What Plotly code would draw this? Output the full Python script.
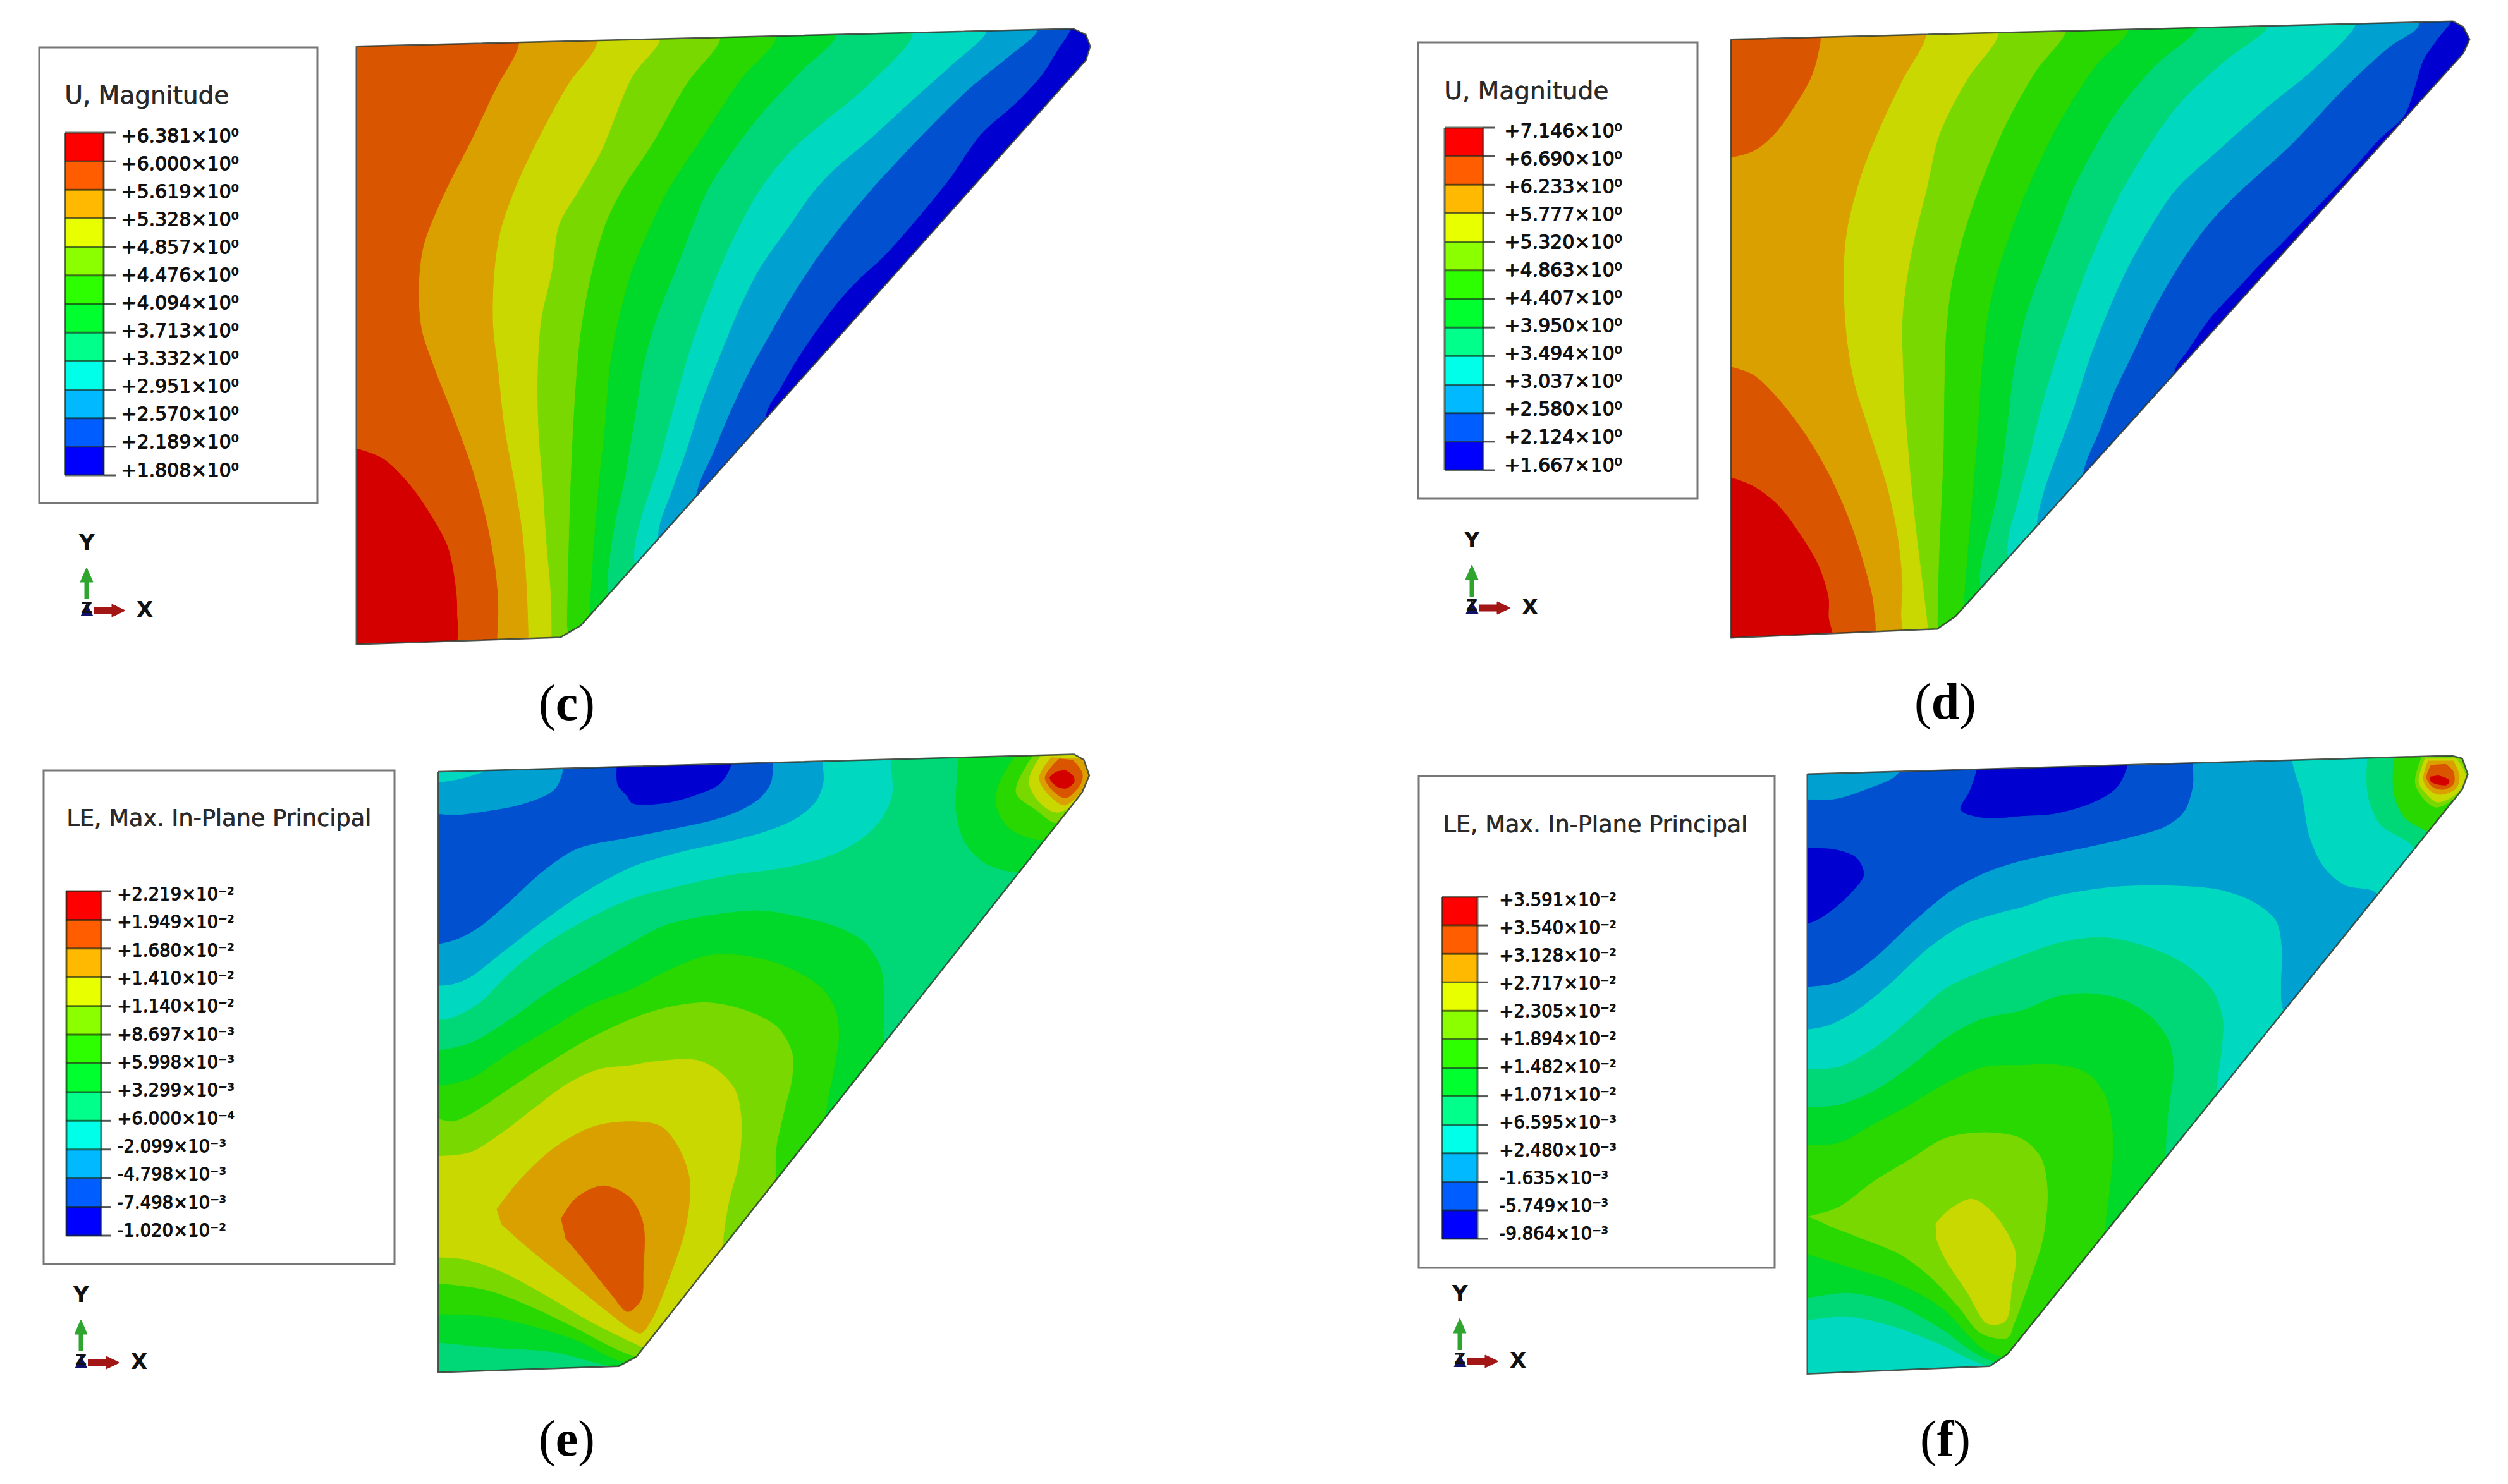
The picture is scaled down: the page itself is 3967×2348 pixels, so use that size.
import plotly.graph_objects as go

W, H = 3967, 2348

# ---------- colours ----------
C_RED, C_ORED, C_ORG, C_YEL = "#D40000", "#D95500", "#DAA000", "#C8D800"
C_LIME, C_GRN, C_GRN2, C_SPR = "#78D800", "#28D800", "#00D82A", "#00D878"
C_CYA, C_SKY, C_BLU, C_DEEP = "#00D8C0", "#00A0D0", "#0050D0", "#0000D0"
LEGEND_COLORS = ["#FF0000", "#FF5D00", "#FFB900", "#E8FF00", "#8BFF00", "#2EFF00",
                 "#00FF2E", "#00FF8B", "#00FFE8", "#00B9FF", "#005DFF", "#0000FF"]

# ---------- legend text ----------
TITLE_C = "U, Magnitude"
TITLE_E = "LE, Max. In-Plane Principal"
LABELS_C = ["+6.381", "+6.000", "+5.619", "+5.328", "+4.857", "+4.476", "+4.094",
            "+3.713", "+3.332", "+2.951", "+2.570", "+2.189", "+1.808"]
EXP_C = ["⁰"] * 13
LABELS_D = ["+7.146", "+6.690", "+6.233", "+5.777", "+5.320", "+4.863", "+4.407",
            "+3.950", "+3.494", "+3.037", "+2.580", "+2.124", "+1.667"]
EXP_D = ["⁰"] * 13
LABELS_E = ["+2.219", "+1.949", "+1.680", "+1.410", "+1.140", "+8.697", "+5.998",
            "+3.299", "+6.000", "-2.099", "-4.798", "-7.498", "-1.020"]
EXP_E = ["⁻²", "⁻²", "⁻²", "⁻²", "⁻²", "⁻³", "⁻³", "⁻³", "⁻⁴", "⁻³", "⁻³", "⁻³", "⁻²"]
LABELS_F = ["+3.591", "+3.540", "+3.128", "+2.717", "+2.305", "+1.894", "+1.482",
            "+1.071", "+6.595", "+2.480", "-1.635", "-5.749", "-9.864"]
EXP_F = ["⁻²", "⁻²", "⁻²", "⁻²", "⁻²", "⁻²", "⁻²", "⁻²", "⁻³", "⁻³", "⁻³", "⁻³", "⁻³"]


def crop(x0, y0, w, h):
    sx, sy = 1568 / w, 1568 / h
    return lambda pts: [(x0 + a / sx, y0 + b / sy) for a, b in pts]


A1, A2, A3 = crop(0, 0, 1000, 1150), crop(1000, 0, 900, 1150), crop(800, 300, 600, 720)
B1, B2, B3 = crop(2200, 0, 1000, 1150), crop(3100, 0, 867, 1150), crop(2980, 300, 600, 720)
E1, E2 = crop(0, 1170, 1100, 1178), crop(1000, 1170, 800, 1050)
F1, F2 = crop(2200, 1170, 1100, 1178), crop(3200, 1170, 767, 1050)

# ---------- panel (c) contours ----------
C_OUTLINE = A1([(884, 100)]) + A2([(1215, 62), (1250, 75), (1262, 100), (1250, 130)]) + \
    A1([(1440, 1350), (1390, 1375), (884, 1390)])
C_RED_PATCH = A1([(884, 968), (950, 990), (1010, 1040), (1060, 1100), (1110, 1180), (1130, 1270),
                  (1133, 1320), (1125, 1395), (870, 1400), (870, 968)])
C_B_ORG = A1([(1285, 100), (1230, 190), (1170, 300), (1100, 420), (1050, 530), (1038, 620), (1045, 710),
              (1075, 790), (1120, 890), (1170, 1010), (1205, 1120), (1228, 1230), (1235, 1310), (1232, 1385)])
C_B_YEL = A1([(1478, 98), (1410, 180), (1340, 290), (1280, 400), (1240, 500), (1225, 590), (1222, 700),
              (1235, 800), (1250, 920), (1275, 1040), (1295, 1150), (1305, 1260), (1310, 1380)])
C_B_LIME = A2([(75, 88), (0, 165)]) + A1([(1490, 327)]) + \
    A3([(303, 0), (220, 120), (190, 280), (145, 450), (130, 650), (135, 850), (150, 1000), (165, 1200), (185, 1400), (188, 1545)])
C_B_GRN = A2([(240, 88), (150, 180), (55, 310)]) + \
    A3([(480, 0), (410, 120), (350, 300), (310, 480), (290, 650), (275, 850), (265, 1050), (258, 1250), (252, 1495)])
C_B_GRN2 = A2([(395, 85), (300, 170), (190, 300)]) + \
    A3([(670, 0), (600, 120), (520, 280), (470, 430), (430, 600), (410, 800), (385, 1000), (365, 1200), (345, 1470)])
C_B_SPR = A2([(560, 80), (470, 150), (340, 260)]) + \
    A3([(841, -11), (779, 109), (719, 240), (620, 450), (570, 600), (530, 800), (490, 1000), (450, 1150), (420, 1340)])
C_B_CYA = A2([(770, 80), (640, 190), (523, 266), (435, 327)]) + \
    A3([(1050, 0), (950, 150), (870, 300), (810, 430), (750, 580), (690, 760), (630, 950), (570, 1100), (530, 1240)])
C_B_SKY = A2([(975, 70), (880, 140), (780, 210), (650, 303), (557, 365)]) + \
    A3([(1267, 11), (1176, 120), (1050, 270), (970, 400), (890, 560), (810, 730), (745, 900), (680, 1050), (630, 1175)])
C_B_BLU = A2([(1115, 68), (1040, 120), (930, 190), (800, 290), (680, 390)]) + \
    A3([(1510, 0), (1400, 110), (1290, 230), (1180, 370), (1090, 500), (1010, 620), (930, 760), (860, 900), (785, 1055)])
C_B_DEEP = A2([(1210, 60), (1170, 110), (1130, 160), (1060, 220), (960, 290), (870, 390)]) + \
    A3([(1568, 225), (1470, 300), (1380, 380), (1280, 490), (1200, 590), (1130, 690), (1075, 775)])

# ---------- panel (d) contours ----------
D_OUTLINE = B1([(843, 85)]) + B2([(1410, 46), (1440, 58), (1458, 85), (1440, 115)]) + \
    B1([(1400, 1330), (1355, 1357), (843, 1376)])
D_ORED_TOP = B1([(830, 70), (1060, 70), (1058, 120), (1040, 170), (1000, 230), (950, 290), (900, 325), (830, 342)])
D_ORED_LOW = B1([(830, 790), (848, 793), (900, 810), (960, 860), (1030, 940), (1090, 1030), (1140, 1130),
                 (1180, 1240), (1197, 1310), (1190, 1390), (830, 1395)])
D_RED_PATCH = B1([(830, 1030), (848, 1032), (900, 1050), (960, 1090), (1020, 1160), (1060, 1220), (1085, 1290),
                  (1085, 1330), (1092, 1390), (830, 1395)])
D_B_YEL = B1([(1325, 82), (1270, 170), (1210, 280), (1165, 380), (1130, 500), (1122, 600), (1130, 730), (1150, 830),
              (1190, 940), (1230, 1050), (1255, 1150), (1268, 1260), (1265, 1330), (1270, 1368)])
D_B_LIME = B1([(1505, 78), (1430, 170), (1360, 290)]) + \
    B3([(175, 0), (130, 150), (95, 300), (75, 450), (78, 620), (90, 800), (110, 1000), (135, 1200), (165, 1400), (180, 1515)])
D_B_GRN = B2([(300, 72), (220, 150), (130, 270)]) + \
    B3([(390, 0), (330, 150), (280, 320), (255, 500), (248, 700), (245, 900), (235, 1100), (225, 1300), (220, 1495)])
D_B_GRN2 = B2([(480, 68), (390, 140), (280, 270)]) + \
    B3([(590, 0), (530, 130), (470, 280), (425, 450), (400, 650), (385, 850), (365, 1050), (345, 1250), (330, 1420)])
D_B_SPR = B2([(680, 60), (560, 140), (440, 250)]) + \
    B3([(780, 0), (720, 130), (650, 280), (590, 420), (540, 600), (510, 800), (480, 1000), (440, 1150), (395, 1320)])
D_B_CYA = B2([(880, 58), (760, 130), (620, 230)]) + \
    B3([(985, 0), (900, 150), (830, 290), (770, 430), (710, 580), (650, 750), (600, 920), (550, 1080), (510, 1215)])
D_B_SKY = B2([(1130, 55), (1010, 150), (880, 230), (730, 330)]) + \
    B3([(1205, 0), (1100, 130), (1000, 280), (920, 430), (850, 580), (780, 760), (710, 920), (660, 1040), (630, 1155)])
D_B_BLU = B2([(1310, 58), (1230, 100), (1100, 190), (950, 310)]) + \
    B3([(1440, 30), (1330, 130), (1220, 260), (1110, 420), (1030, 560), (950, 700), (890, 830), (820, 985)])
D_B_DEEP = B2([(1405, 45), (1365, 85), (1325, 130), (1300, 190), (1270, 250), (1200, 300), (1100, 385), (1010, 455),
               (900, 540)]) + B3([(1568, 245), (1450, 350), (1350, 440), (1250, 560), (1200, 625)])

# ---------- panel (e) contours ----------
E_OUTLINE = E1([(988, 68)]) + E2([(1370, 35), (1400, 48), (1417, 85), (1395, 125)]) + \
    E1([(1435, 1300), (1395, 1320), (988, 1333)])
E_U_CYA = E1([(988, 590), (1020, 585), (1080, 555), (1150, 490), (1230, 430), (1330, 375)]) + \
    E2([(0, 375), (150, 345), (300, 320), (450, 305), (590, 280), (700, 240), (770, 190), (805, 130), (800, 48)])
E_U_SKY = E1([(988, 518), (1020, 515), (1060, 500), (1130, 450), (1220, 385), (1320, 320)]) + \
    E2([(0, 300), (150, 265), (300, 240), (420, 215), (510, 185), (570, 145), (592, 100), (590, 58)])
E_U_BLU = E1([(988, 430), (1030, 420), (1080, 395), (1150, 340), (1220, 280), (1300, 230)]) + \
    E2([(0, 230), (130, 210), (250, 190), (340, 165), (400, 135), (430, 100), (435, 60)])
E_SKY_PATCH = E1([(970, 155), (1030, 158), (1100, 150), (1180, 135), (1250, 105), (1270, 60), (1270, 40), (970, 40)])
E_CYA_PATCH = E1([(970, 60), (1090, 66), (1040, 82), (990, 90), (970, 92)])
E_DEEP_TOP = E1([(1393, 40), (1393, 95), (1415, 120)]) + E2([(0, 150), (100, 150), (200, 130), (270, 105), (305, 62), (305, 30)])
E_L_GRN2_U = E1([(988, 655), (1060, 640), (1150, 590), (1240, 530), (1330, 480)]) + \
    E2([(0, 480), (100, 440), (250, 415), (400, 405), (520, 420), (640, 445), (720, 480), (770, 540), (780, 620), (780, 715)])
E_L_GRN2_D = E1([(988, 1270), (1100, 1280), (1250, 1290), (1395, 1322)])
E_L_GRN_U = E1([(988, 730), (1060, 715), (1150, 660), (1240, 610), (1330, 560)]) + \
    E2([(0, 590), (100, 550), (240, 510), (380, 515), (500, 545), (590, 590), (630, 640), (640, 700), (625, 780), (600, 885)])
E_L_GRN_D = E1([(988, 1210), (1100, 1215), (1200, 1235), (1300, 1265), (1410, 1312)])
E_L_LIME_U = E1([(988, 800), (1020, 805), (1060, 790), (1150, 735), (1240, 680), (1330, 630)]) + \
    E2([(0, 660), (100, 635), (230, 622), (350, 640), (450, 680), (495, 740), (495, 800), (470, 880), (445, 970), (445, 1035)])
E_L_LIME_D = E1([(988, 1145), (1100, 1160), (1200, 1195), (1300, 1240), (1425, 1297)])
E_L_YEL_U = E1([(988, 878), (1060, 870), (1130, 830), (1200, 780), (1280, 725), (1350, 695)]) + \
    E2([(0, 770), (60, 762), (200, 758), (270, 785), (320, 830), (338, 900), (330, 1000), (300, 1090), (280, 1195)])
E_L_YEL_D = E1([(988, 1090), (1050, 1095), (1130, 1120), (1230, 1170), (1330, 1225), (1445, 1278)])
E_ORG_BLOB = E1([(1120, 990), (1170, 930), (1250, 860), (1340, 815), (1425, 805), (1490, 815), (1530, 860), (1555, 930),
                 (1545, 1030), (1510, 1130), (1470, 1220), (1445, 1250), (1420, 1240), (1350, 1190), (1270, 1130),
                 (1190, 1070), (1130, 1020)])
E_ORED_BLOB = E1([(1265, 1010), (1300, 965), (1360, 940), (1420, 965), (1450, 1020), (1450, 1120), (1445, 1180),
                  (1415, 1205), (1380, 1170), (1320, 1100), (1275, 1050)])
E_TIP_GRN2 = E2([(1015, 30), (1005, 170), (1030, 240), (1090, 290), (1175, 312), (1230, 310), (1440, 140), (1440, 20)])
E_TIP_GRN = E2([(1195, 30), (1135, 110), (1130, 160), (1170, 210), (1265, 237), (1330, 220), (1440, 130), (1440, 20)])
E_TIP_LIME = E2([(1250, 30), (1190, 125), (1250, 165), (1320, 197), (1440, 100), (1440, 20)])
E_TIP_YEL = E2([(1270, 35), (1230, 100), (1265, 150), (1320, 172), (1440, 100), (1440, 20)])
E_TIP_ORG = E2([(1300, 42), (1262, 90), (1285, 125), (1340, 155), (1400, 115), (1420, 80), (1390, 45)])
E_TIP_ORED = E2([(1325, 45), (1280, 90), (1310, 125), (1345, 138), (1390, 105), (1395, 80), (1365, 48)])
E_TIP_RED = E2([(1320, 75), (1295, 90), (1315, 110), (1345, 115), (1370, 100), (1365, 85), (1340, 72)])

# ---------- panel (f) contours ----------
F_OUTLINE = F1([(939, 73)]) + F2([(1385, 38), (1420, 45), (1438, 82), (1420, 118)]) + \
    F1([(1390, 1295), (1350, 1320), (939, 1336)])
F_U_SKY_A = F1([(939, 610), (990, 600), (1050, 570), (1130, 510), (1210, 440), (1290, 390), (1370, 365)]) + \
    F2([(0, 395), (100, 370), (300, 347), (500, 345), (640, 355), (750, 385), (820, 430), (838, 500), (835, 580), (840, 635)])
F_U_SKY_B = F2([(1140, 362), (1040, 345), (970, 300), (925, 230), (900, 130), (870, 55)])
F_U_BLU = F1([(939, 520), (1010, 510), (1090, 460), (1170, 390), (1260, 320), (1340, 280)]) + \
    F2([(0, 285), (200, 255), (350, 230), (460, 205), (520, 170), (548, 110), (548, 60)])
F_SKY_PATCH = F1([(925, 125), (1000, 125), (1070, 105), (1140, 75), (1150, 50), (925, 50)])
F_DEEP_TOP = F1([(1322, 40), (1320, 68), (1305, 110), (1285, 148), (1340, 165)]) + \
    F2([(0, 180), (100, 175), (220, 150), (300, 115), (335, 65), (335, 30)])
F_DEEP_LEFT = F1([(925, 230), (1000, 232), (1050, 250), (1066, 285), (1040, 320), (1000, 355), (960, 380), (925, 392)])
F_L_SPR_U = F1([(939, 695), (1010, 690), (1090, 650), (1170, 590), (1250, 525), (1330, 490)]) + \
    F2([(0, 510), (120, 480), (260, 468), (400, 490), (520, 530), (610, 590), (645, 660), (640, 740), (625, 828)])
F_L_SPR_D = F1([(939, 1222), (1030, 1215), (1130, 1235), (1230, 1270), (1350, 1320)])
F_L_GRN2_U = F1([(939, 775), (1010, 770), (1090, 740), (1170, 690), (1250, 630), (1330, 590)]) + \
    F2([(0, 640), (100, 610), (200, 600), (320, 615), (420, 660), (475, 720), (485, 790), (470, 870), (460, 978)])
F_L_GRN2_D = F1([(939, 1175), (1030, 1165), (1130, 1185), (1240, 1240), (1345, 1305)])
F_L_GRN_U = F1([(939, 855), (1010, 850), (1090, 810), (1170, 770), (1260, 720), (1340, 690)]) + \
    F2([(0, 770), (100, 768), (210, 790), (270, 850), (290, 950), (280, 1060), (265, 1152)])
F_L_GRN_D = F1([(939, 1085), (1030, 1110), (1130, 1140), (1240, 1195), (1330, 1280), (1375, 1300)])
F_LIME_BLOB = F1([(942, 1005), (1010, 985), (1090, 930), (1170, 885), (1250, 840), (1340, 828), (1420, 840), (1465, 880),
                  (1480, 950), (1470, 1050), (1440, 1140), (1405, 1230), (1390, 1260), (1330, 1250), (1280, 1195),
                  (1220, 1135), (1150, 1085), (1060, 1050), (990, 1025)])
F_YEL_BLOB = F1([(1228, 1020), (1260, 990), (1310, 968), (1360, 1000), (1408, 1080), (1400, 1150), (1385, 1225),
                 (1345, 1230), (1300, 1165), (1245, 1085), (1230, 1050)])
F_TIP_SPR = F2([(1115, 30), (1115, 130), (1155, 200), (1250, 245), (1300, 285), (1460, 100), (1460, 20)])
F_TIP_GRN = F2([(1200, 30), (1200, 130), (1235, 185), (1290, 210), (1330, 220), (1460, 100), (1460, 20)])
F_TIP_LIME = F2([(1290, 40), (1268, 100), (1290, 135), (1335, 160), (1410, 130), (1450, 80), (1420, 40)])
F_TIP_YEL = F2([(1300, 45), (1280, 100), (1300, 125), (1340, 148), (1405, 125), (1430, 85), (1400, 45)])
F_TIP_ORG = F2([(1310, 50), (1295, 95), (1315, 120), (1350, 130), (1400, 115), (1410, 85), (1390, 50)])
F_TIP_ORED = F2([(1320, 60), (1305, 90), (1325, 112), (1360, 118), (1392, 105), (1390, 75), (1365, 58)])
F_TIP_RED = F2([(1315, 88), (1320, 100), (1370, 107), (1378, 97), (1340, 85)])

fig = go.Figure()
cur_axes = ("x", "y")
axes_layout = {}
shapes, notes = [], []


def area(pts, color, smooth=True):
    fig.add_trace(go.Scatter(
        x=[p[0] for p in pts], y=[p[1] for p in pts], mode="lines", fill="toself", fillcolor=color,
        xaxis=cur_axes[0], yaxis=cur_axes[1],
        line=dict(color=color, width=1, shape="spline" if smooth else "linear", smoothing=0.9),
        hoverinfo="skip", showlegend=False))


class Panel:
    """Each contour plot lives on its own axes, which clip whatever the smoothed contours overshoot."""

    def __init__(self, outline, n):
        global cur_axes
        self.outline = outline
        xs, ys = [p[0] for p in outline], [p[1] for p in outline]
        self.L, self.R, self.T, self.B = min(xs) - 15, max(xs) + 15, min(ys) - 15, max(ys) + 15
        m = 25
        x0, x1, y0, y1 = self.L - m, min(self.R + m, W), max(self.T - m, 0), min(self.B + m, H)
        axes_layout[f"xaxis{n}"] = dict(domain=[x0 / W, x1 / W], range=[x0, x1], visible=False, fixedrange=True,
                                        anchor=f"y{n}")
        axes_layout[f"yaxis{n}"] = dict(domain=[1 - y1 / H, 1 - y0 / H], range=[y1, y0], visible=False, fixedrange=True,
                                        anchor=f"x{n}")
        self.box = (x0, x1, y0, y1)
        cur_axes = (f"x{n}", f"y{n}")

    def base(self, color):
        area([(self.L, self.T), (self.R, self.T), (self.R, self.B), (self.L, self.B)], color, False)

    def left_of(self, curve, color):
        """everything left of a top-to-bottom contour"""
        area([(curve[0][0], self.T)] + curve + [(curve[-1][0], self.B), (self.L, self.B), (self.L, self.T)], color)

    def above(self, curve, color):
        """everything above a left-to-top-edge contour"""
        area([(self.L, curve[0][1])] + curve + [(curve[-1][0], self.T), (self.L, self.T)], color)

    def between(self, upper, lower, color):
        """between an upper contour and a lower one, both read from the left edge"""
        area([(self.L, upper[0][1])] + upper + [(upper[-1][0], self.B)] + lower[::-1] + [(self.L, lower[0][1])], color)

    def finish(self):
        global cur_axes
        m = 10
        x0, x1, y0, y1 = self.box
        o = self.outline
        sx = o[0][0]
        rect = [(sx, y0 - m), (x1 + m, y0 - m), (x1 + m, y1 + m), (x0 - m, y1 + m), (x0 - m, y0 - m), (sx, y0 - m)]
        area(rect + [o[0]] + o[::-1] + [o[0], (sx, y0 - m)], "#FFFFFF", False)
        fig.add_trace(go.Scatter(x=[p[0] for p in o] + [o[0][0]], y=[p[1] for p in o] + [o[0][1]], mode="lines",
                                 xaxis=cur_axes[0], yaxis=cur_axes[1],
                                 line=dict(color="rgba(35,45,35,0.8)", width=2.5), hoverinfo="skip", showlegend=False))
        # clean white frame over the clip edge of the axes
        shapes.append(dict(type="rect", xref="x", yref="y", x0=x0, x1=x1, y0=y0, y1=y1,
                           line=dict(color="#FFFFFF", width=6), layer="above"))
        cur_axes = ("x", "y")


# panel (c)
p = Panel(C_OUTLINE, 2)
p.base(C_DEEP)
for curve, col in [(C_B_DEEP, C_BLU), (C_B_BLU, C_SKY), (C_B_SKY, C_CYA), (C_B_CYA, C_SPR), (C_B_SPR, C_GRN2),
                   (C_B_GRN2, C_GRN), (C_B_GRN, C_LIME), (C_B_LIME, C_YEL), (C_B_YEL, C_ORG), (C_B_ORG, C_ORED)]:
    p.left_of(curve, col)
area(C_RED_PATCH, C_RED)
p.finish()

# panel (d)
p = Panel(D_OUTLINE, 3)
p.base(C_DEEP)
for curve, col in [(D_B_DEEP, C_BLU), (D_B_BLU, C_SKY), (D_B_SKY, C_CYA), (D_B_CYA, C_SPR), (D_B_SPR, C_GRN2),
                   (D_B_GRN2, C_GRN), (D_B_GRN, C_LIME), (D_B_LIME, C_YEL), (D_B_YEL, C_ORG)]:
    p.left_of(curve, col)
area(D_ORED_TOP, C_ORED)
area(D_ORED_LOW, C_ORED)
area(D_RED_PATCH, C_RED)
p.finish()

# panel (e)
p = Panel(E_OUTLINE, 4)
p.base(C_SPR)
p.above(E_U_CYA, C_CYA)
p.above(E_U_SKY, C_SKY)
p.above(E_U_BLU, C_BLU)
area(E_SKY_PATCH, C_SKY)
area(E_CYA_PATCH, C_CYA)
area(E_DEEP_TOP, C_DEEP)
p.between(E_L_GRN2_U, E_L_GRN2_D, C_GRN2)
p.between(E_L_GRN_U, E_L_GRN_D, C_GRN)
p.between(E_L_LIME_U, E_L_LIME_D, C_LIME)
p.between(E_L_YEL_U, E_L_YEL_D, C_YEL)
area(E_ORG_BLOB, C_ORG)
area(E_ORED_BLOB, C_ORED)
for pts, col in [(E_TIP_GRN2, C_GRN2), (E_TIP_GRN, C_GRN), (E_TIP_LIME, C_LIME), (E_TIP_YEL, C_YEL),
                 (E_TIP_ORG, C_ORG), (E_TIP_ORED, C_ORED), (E_TIP_RED, C_RED)]:
    area(pts, col)
p.finish()

# panel (f)
p = Panel(F_OUTLINE, 5)
p.base(C_CYA)
area([(p.L, F_U_SKY_A[0][1])] + F_U_SKY_A + [(F_U_SKY_A[-1][0] + 20, F_U_SKY_A[-1][1] + 40),
                                             (F_U_SKY_B[0][0] + 20, F_U_SKY_B[0][1] + 40)] + F_U_SKY_B +
     [(F_U_SKY_B[-1][0], p.T), (p.L, p.T)], C_SKY)
p.above(F_U_BLU, C_BLU)
area(F_SKY_PATCH, C_SKY)
area(F_DEEP_TOP, C_DEEP)
area(F_DEEP_LEFT, C_DEEP)
p.between(F_L_SPR_U, F_L_SPR_D, C_SPR)
p.between(F_L_GRN2_U, F_L_GRN2_D, C_GRN2)
p.between(F_L_GRN_U, F_L_GRN_D, C_GRN)
area(F_LIME_BLOB, C_LIME)
area(F_YEL_BLOB, C_YEL)
for pts, col in [(F_TIP_SPR, C_SPR), (F_TIP_GRN, C_GRN), (F_TIP_LIME, C_LIME), (F_TIP_YEL, C_YEL),
                 (F_TIP_ORG, C_ORG), (F_TIP_ORED, C_ORED), (F_TIP_RED, C_RED)]:
    area(pts, col)
p.finish()

# ---------- legends ----------
HEAVY = "1px 0 0 #111111, 0 0.5px 0 #111111"


def text(x, y, s, size, anchor="left", family="DejaVu Sans", color="#111111", shadow=None):
    font = dict(family=family, size=size, color=color)
    if shadow:
        font["shadow"] = shadow
    notes.append(dict(x=x, y=y, text=s, xref="x", yref="y", showarrow=False, xanchor=anchor, yanchor="middle",
                      font=font, align="left"))


def legend(box, title, title_xy, title_size, bar, tick_end, label_x, labels, exps, label_size, origin):
    x0, x1, y0, y1 = box
    shapes.append(dict(type="rect", xref="x", yref="y", x0=x0, x1=x1, y0=y0, y1=y1,
                       line=dict(color="#777777", width=3), fillcolor="#FFFFFF", layer="below"))
    text(title_xy[0], title_xy[1], title, title_size, color="#2A2A2A", shadow="0.7px 0 0 #2A2A2A")
    bx0, bx1, by0, by1 = bar
    step = (by1 - by0) / 12
    label_step = (by1 - by0 - 13) / 12
    for i, col in enumerate(LEGEND_COLORS):
        shapes.append(dict(type="rect", xref="x", yref="y", x0=bx0, x1=bx1, y0=by0 + i * step, y1=by0 + (i + 1) * step,
                           line=dict(width=0), fillcolor=col, layer="above"))
    for i, (lab, ex) in enumerate(zip(labels, exps)):
        y = by0 + i * step
        shapes.append(dict(type="line", xref="x", yref="y", x0=bx0, x1=bx1, y0=y, y1=y,
                           line=dict(color="rgba(20,40,20,0.65)", width=3), layer="above"))
        shapes.append(dict(type="line", xref="x", yref="y", x0=bx1, x1=tick_end, y0=y, y1=y,
                           line=dict(color="#555555", width=3), layer="above"))
        text(label_x, by0 + 4 + i * label_step, f"{lab}×10{ex}", label_size, shadow=HEAVY)
    for x in (bx0, bx1):
        shapes.append(dict(type="line", xref="x", yref="y", x0=x, x1=x, y0=by0, y1=by1,
                           line=dict(color="rgba(20,40,20,0.65)", width=3), layer="above"))
    # triad
    ox, oy = origin
    area([(ox - 3, oy - 18), (ox - 3, oy - 45), (ox - 10, oy - 45), (ox, oy - 68), (ox + 10, oy - 45),
          (ox + 3, oy - 45), (ox + 3, oy - 18)], "#2FA52F", False)
    area([(ox + 11, oy - 5), (ox + 40, oy - 5), (ox + 40, oy - 10), (ox + 61, oy), (ox + 40, oy + 10),
          (ox + 40, oy + 5), (ox + 11, oy + 5)], "#A31616", False)
    area([(ox - 9, oy + 9), (ox, oy - 11), (ox + 10, oy + 9)], "#10106A", False)
    text(ox, oy - 108, "<b>Y</b>", 34, "center")
    text(ox + 92, oy - 2, "<b>X</b>", 34, "center")
    text(ox, oy - 5, "<b>Z</b>", 25, "center")


legend((62, 502, 75, 796), TITLE_C, (100, 150), 39, (103, 164, 210, 752), 183, 189, LABELS_C, EXP_C, 30, (137, 966))
legend((2243, 2685, 67, 789), TITLE_C, (2282, 143), 39, (2285, 2346, 202, 744), 2365, 2377, LABELS_D, EXP_D, 30, (2328, 962))
legend((69, 624, 1219, 2000), TITLE_E, (103, 1294), 36.7, (105, 160, 1410, 1955), 175, 183, LABELS_E, EXP_E, 27.5, (128, 2156))
legend((2244, 2807, 1228, 2006), TITLE_E, (2280, 1304), 36.7, (2281, 2337, 1419, 1960), 2353, 2369, LABELS_F, EXP_F, 27.5, (2309, 2154))

# ---------- captions ----------
CAPTIONS = [("c", 896, 1112), ("d", 3077, 1110), ("e", 896, 2276), ("f", 3077, 2276)]
for letter, cx, cy in CAPTIONS:
    text(cx, cy, f"(<b>{letter}</b>)", 80, "center", family="Liberation Serif", color="#000000")

fig.update_layout(
    width=W, height=H, margin=dict(l=0, r=0, t=0, b=0), autosize=False,
    paper_bgcolor="#FFFFFF", plot_bgcolor="rgba(0,0,0,0)", showlegend=False,
    shapes=shapes, annotations=notes,
    xaxis=dict(domain=[0, 1], range=[0, W], visible=False, fixedrange=True),
    yaxis=dict(domain=[0, 1], range=[H, 0], visible=False, fixedrange=True),
    **axes_layout,
)
fig.write_html("out.html", config=dict(displayModeBar=False), post_script="document.body.style.margin='0';")
